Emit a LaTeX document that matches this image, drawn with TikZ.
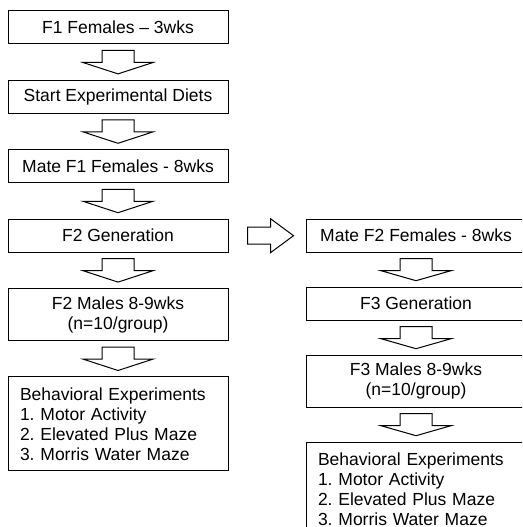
\documentclass[tikz,border=0pt]{standalone}
\usepackage{fontspec}
\setmainfont{Liberation Sans}
\usepackage{tikz}
\usetikzlibrary{calc}
\usetikzlibrary{positioning}

\begin{document}
\begin{tikzpicture}[x=1pt,y=1pt]
    \useasboundingbox (0,0) rectangle (522,527);
    \clip (0,0) rectangle (522,527);
    \tikzstyle{every node}=[draw=black,line width=1pt,font=\fontsize{17.5}{20}\selectfont\frenchspacing,node distance=35.4pt,minimum width=220pt,inner sep=0pt]
    \tikzstyle{every path}=[line width=1pt]
    \tikzstyle{onebox}=[minimum height=33pt]
    \tikzstyle{twobox}=[minimum height=52pt,align=center]
    \tikzstyle{listbox}=[minimum height=94pt,align=left,text width=196pt,inner xsep=12pt]

    % left column
    \node[onebox] (females) at (118,499.5) {F1 Females – 3wks} ;
    \node[onebox,below=of females] (diets) {Start Experimental Diets} ;
    \node[onebox,below=of diets] (matefone) {Mate F1 Females - 8wks} ;
    \node[onebox,below=of matefone] (gentwo) {F2 Generation} ;
    \node[twobox,below=of gentwo] (malestwo) {F2 Males 8-9wks\\(n=10/group)} ;
    \node[listbox,below=of malestwo] (behavtwo) {Behavioral Experiments\\1. Motor Activity\\2. Elevated Plus Maze\\3. Morris Water Maze} ;

    % right column
    \node[onebox,right=77pt of gentwo] (mateftwo) {Mate F2 Females - 8wks} ;
    \node[onebox,below=34pt of mateftwo] (genthree) {F3 Generation} ;
    \node[twobox,below=34pt of genthree] (malesthree) {F3 Males 8-9wks\\(n=10/group)} ;
    \node[listbox,below=34pt of malesthree] (behavthree) {Behavioral Experiments\\1. Motor Activity\\2. Elevated Plus Maze\\3. Morris Water Maze} ;

    \newcommand{\blockdown}[2]{%
      \draw ($(#1.south)+(-16,-6)$) -- ($(#1.south)+(-16,-18)$) -- ($(#1.south)+(-35,-18)$)
        -- ($(#2.north)+(0,6)$) -- ($(#1.south)+(35,-18)$) -- ($(#1.south)+(16,-18)$)
        -- ($(#1.south)+(16,-6)$) -- cycle ;}

    \blockdown{females}{diets}
    \blockdown{diets}{matefone}
    \blockdown{matefone}{gentwo}
    \blockdown{gentwo}{malestwo}
    \blockdown{malestwo}{behavtwo}
    \blockdown{mateftwo}{genthree}
    \blockdown{genthree}{malesthree}
    \blockdown{malesthree}{behavthree}

    \draw ($(gentwo.east)+(19,8.5)$) -- ++(23,0) -- ++(0,8.5)
          -- ($(mateftwo.west)+(-12,0)$) -- ($(gentwo.east)+(42,-17)$) -- ++(0,8.5)
          -- ($(gentwo.east)+(19,-8.5)$) -- cycle ;

\end{tikzpicture}
\end{document}
